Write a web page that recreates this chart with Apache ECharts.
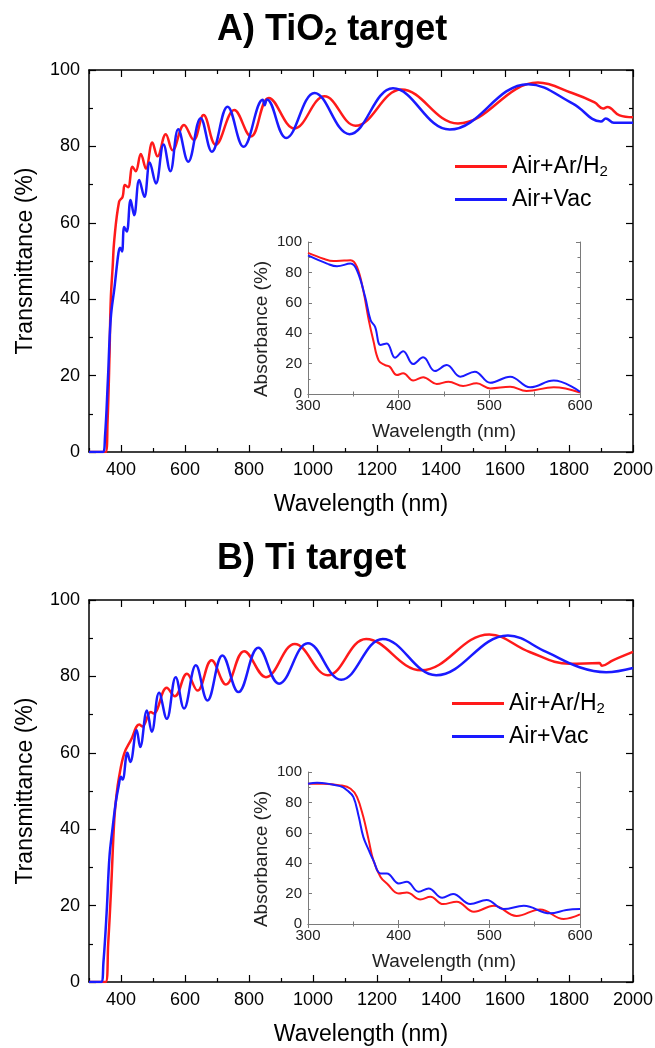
<!DOCTYPE html>
<html>
<head>
<meta charset="utf-8">
<title>Transmittance</title>
<script src="https://cdn.jsdelivr.net/npm/echarts@6.0.0/dist/echarts.min.js"></script>
</head>
<body style="margin:0;background:#fff">
<div id="main" style="width:655px;height:1048px"></div>
<script>
// ---- data: [wavelength nm, %] ----
var tio2ArH2 = [[300,0],[352,0],[358,8],[364,25],[368,39.8],[374,48.5],[379,55.5],[394,65.5],[405,66.8],[412,69.9],[422,69.3],[436,74.7],[446,73.5],[462,78],[478,74.2],[498,81],[514,77.4],[540,83.2],[561,79],[597,85.6],[627,81.7],[658,88.2],[696,80.4],[754,89.5],[806,82.6],[862,92.7],[942,84.7],[1036,93.1],[1133,85.4],[1276,94.9],[1453,86],[1703,96.7],[1812,93.9],[1880,91.5],[1906,89.9],[1920,90.3],[1958,88.1],[2000,87.6]];
var tio2Vac = [[300,0],[343,0],[350,4],[359,18.8],[368,35],[380,43.3],[392,52.1],[397,53.5],[403,52.5],[410,58.9],[418,57.7],[430,66],[441,62],[457,71.2],[473,66.8],[490,75.8],[509,70.3],[533,80.5],[554,73.5],[579,84.5],[610,76],[649,87.4],[684,78.6],[733,90.4],[783,79.9],[843,92.2],[849,90.8],[856,92.3],[916,82.2],[1005,94],[1114,83.2],[1250,95.2],[1427,84.4],[1672,96.3],[1812,91.2],[1900,86.5],[1915,87.3],[1940,86.2],[2000,86.2]];
var tio2InsetArH2 = [[300,92.8],[317,89],[328,87.5],[340,87.8],[347,88],[354,83.6],[361,68],[367,48.6],[372,35.4],[378,22],[385,19],[390,18],[398,12.5],[405,13.6],[416,8.8],[427,11],[442,6.6],[455,8.1],[471,5.3],[486,7],[501,3.7],[523,4.8],[541,2],[571,4.4],[600,1]];
var tio2InsetVac = [[300,91.2],[321,85.8],[332,84],[347,85.8],[354,81.4],[363,63.9],[369,48.6],[374,44.2],[380,32.2],[387,33.3],[396,23.9],[405,28.2],[416,19.7],[427,24.1],[440,15.1],[453,19],[468,11.4],[484,14.7],[501,7.4],[523,11.4],[545,4.4],[571,8.8],[600,1.5]];

var tiArH2 = [[300,0],[352,0],[360,10],[369,24.3],[379,42.4],[386,49],[394,53.7],[410,59.8],[431,63.3],[457,67.4],[467,66.9],[493,70.7],[502,70.3],[543,77],[568,74.8],[606,80.7],[639,76.3],[683,84.2],[728,77.9],[785,86.6],[853,79.8],[943,88.5],[1046,80.3],[1166,89.8],[1338,81.6],[1551,91],[1677,86.4],[1802,83.3],[1895,83.5],[1903,82.8],[1937,84.2],[2000,86.4]];
var tiVac = [[300,0],[338,0],[345,5],[355,18],[364,32.8],[373,39.8],[384,47.2],[392,51],[400,53.7],[405,53],[420,60],[429,57.6],[449,65.9],[460,61.5],[481,71.1],[496,65.5],[519,75.7],[543,68.9],[571,79.8],[597,71.6],[634,82.9],[670,73.7],[717,85.5],[767,75.9],[829,87.5],[894,78.1],[984,88.7],[1088,79.1],[1218,89.8],[1385,80.3],[1609,90.7],[1729,86.4],[1833,82.4],[1916,81.1],[2000,82.2]];
var tiInsetArH2 = [[300,92.3],[317,92.3],[336,91.2],[347,89],[354,83.6],[361,70.5],[367,55],[372,42],[380,31],[387,26.7],[400,20.1],[409,20.8],[424,16.2],[435,17.9],[449,13.1],[464,14.7],[483,8.1],[505,12],[530,5.3],[556,9.6],[582,3.3],[600,6.3]];
var tiInsetVac = [[300,92.3],[310,93],[336,90.6],[343,88],[350,83.6],[356,70.5],[361,57.3],[367,48.6],[372,42],[380,33.3],[387,33.3],[400,26.7],[409,27.8],[422,21.2],[433,23.4],[448,17.3],[460,19.7],[479,13.1],[497,15.8],[516,9.8],[538,12],[567,7],[585,9.2],[600,9.8]];

var mainMajorTicks = [400, 600, 800, 1000, 1200, 1400, 1600, 1800, 2000];
var mainMinorTicks = [300, 500, 700, 900, 1100, 1300, 1500, 1700, 1900];

var RED = '#ff1a1a', BLUE = '#1a1aff';
var FONT = 'Liberation Sans, Arial, sans-serif';

var chart = echarts.init(document.getElementById('main'), null, {renderer: 'canvas'});

var grids = [
	{left: 89, top: 70, width: 544, height: 382},    // A main
	{left: 308, top: 242, width: 272, height: 152},  // A inset
	{left: 89, top: 600, width: 544, height: 382},   // B main
	{left: 308, top: 772, width: 272, height: 152}   // B inset
];
grids.forEach(function (g) { g.outerBoundsMode = 'none'; });

var xAxes = [], yAxes = [];
var plain = function (v) { return String(v); };

function mainAxes(gi) {
	var line = {show: true, lineStyle: {color: '#000', width: 1.5}};
	var xi = xAxes.length;
	['bottom', 'top'].forEach(function (pos) {
		var isB = pos === 'bottom';
		xAxes.push({
			gridIndex: gi, type: 'value', position: pos, min: 300, max: 2000,
			axisLine: line, splitLine: {show: false},
			axisTick: {inside: true, length: 7, customValues: mainMajorTicks, lineStyle: {color: '#000', width: 1.2}},
			axisLabel: {show: isB, customValues: mainMajorTicks, formatter: plain, fontSize: 18, color: '#000', margin: 9, fontFamily: FONT},
			name: isB ? 'Wavelength (nm)' : '', nameLocation: 'middle', nameGap: 41,
			nameTextStyle: {fontSize: 23, color: '#000', fontFamily: FONT}
		});
		xAxes.push({
			gridIndex: gi, type: 'value', position: pos, min: 300, max: 2000,
			axisLine: {show: false}, splitLine: {show: false}, axisLabel: {show: false},
			axisTick: {inside: true, length: 4, customValues: mainMinorTicks, lineStyle: {color: '#000', width: 1.2}}
		});
	});
	var yi = yAxes.length;
	['left', 'right'].forEach(function (pos) {
		var isL = pos === 'left';
		yAxes.push({
			gridIndex: gi, type: 'value', position: pos, min: 0, max: 100, interval: 20,
			axisLine: line, splitLine: {show: false},
			axisTick: {inside: true, length: 7, lineStyle: {color: '#000', width: 1.2}},
			minorTick: {show: true, splitNumber: 2, length: 4, lineStyle: {color: '#000', width: 1.2}},
			axisLabel: {show: isL, formatter: plain, fontSize: 18, color: '#000', margin: 9, fontFamily: FONT},
			name: isL ? 'Transmittance (%)' : '', nameLocation: 'middle', nameGap: 52,
			nameTextStyle: {fontSize: 23, color: '#000', fontFamily: FONT}
		});
	});
	return [xi, yi];
}

function insetAxes(gi) {
	var gray = '#7a7a7a';
	var line = {show: true, lineStyle: {color: gray, width: 1}};
	var tick = {inside: true, length: 4, lineStyle: {color: gray}};
	var minor = {show: true, splitNumber: 2, length: 2.5, lineStyle: {color: gray}};
	var xi = xAxes.length;
	['bottom', 'top'].forEach(function (pos) {
		var isB = pos === 'bottom';
		xAxes.push({
			gridIndex: gi, type: 'value', position: pos, min: 300, max: 600, interval: 100,
			axisLine: line, splitLine: {show: false}, axisTick: tick, minorTick: minor,
			axisLabel: {show: isB, formatter: plain, fontSize: 15, color: '#222', margin: 4, fontFamily: FONT},
			name: isB ? 'Wavelength (nm)' : '', nameLocation: 'middle', nameGap: 28,
			nameTextStyle: {fontSize: 19, color: '#222', fontFamily: FONT}
		});
	});
	var yi = yAxes.length;
	['left', 'right'].forEach(function (pos) {
		var isL = pos === 'left';
		yAxes.push({
			gridIndex: gi, type: 'value', position: pos, min: 0, max: 100, interval: 20,
			axisLine: line, splitLine: {show: false}, axisTick: tick, minorTick: minor,
			axisLabel: {show: isL, formatter: plain, fontSize: 15, color: '#222', margin: 6, fontFamily: FONT},
			name: isL ? 'Absorbance (%)' : '', nameLocation: 'middle', nameGap: 37,
			// nudged down a little, as in the figure
			nameTextStyle: {fontSize: 19, color: '#222', fontFamily: FONT, padding: [0, 22, 0, 0]}
		});
	});
	return [xi, yi];
}

var axA = mainAxes(0), axAi = insetAxes(1), axB = mainAxes(2), axBi = insetAxes(3);

function line(name, data, ax, color, width) {
	return {
		name: name, type: 'line', data: data, xAxisIndex: ax[0], yAxisIndex: ax[1],
		symbol: 'none', smooth: 0.4, color: color,
		lineStyle: {color: color, width: width}, animation: false
	};
}

var series = [
	line('Air+Ar/H2', tio2ArH2, axA, RED, 2.5),
	line('Air+Vac', tio2Vac, axA, BLUE, 2.5),
	line('Air+Ar/H2', tio2InsetArH2, axAi, RED, 2),
	line('Air+Vac', tio2InsetVac, axAi, BLUE, 2),
	line('Air+Ar/H2', tiArH2, axB, RED, 2.5),
	line('Air+Vac', tiVac, axB, BLUE, 2.5),
	line('Air+Ar/H2', tiInsetArH2, axBi, RED, 2),
	line('Air+Vac', tiInsetVac, axBi, BLUE, 2)
];

function legendItem(name, left, top) {
	return {
		data: [name], left: left, top: top, padding: 0, icon: 'rect',
		itemWidth: 52, itemHeight: 3, selectedMode: false,
		formatter: function (n) { return n === 'Air+Ar/H2' ? 'Air+Ar/H{s|2}' : n; },
		textStyle: {fontSize: 23, color: '#000', fontFamily: FONT,
			rich: {s: {fontSize: 15, color: '#000', fontFamily: FONT, padding: [11, 0, 0, 0]}}}
	};
}

var titleStyle = {
	fontSize: 36, fontWeight: 'bold', color: '#000', fontFamily: FONT,
	rich: {s: {fontSize: 23, fontWeight: 'bold', color: '#000', fontFamily: FONT, padding: [17, 0, 0, 0]}}
};

var option = {
	backgroundColor: '#fff',
	animation: false,
	title: [
		{text: 'A) TiO{s|2} target', left: 217, top: 10, padding: 0, textStyle: titleStyle},
		{text: 'B) Ti target', left: 217, top: 541, padding: 0, textStyle: titleStyle}
	],
	legend: [
		legendItem('Air+Ar/H2', 455, 155),
		legendItem('Air+Vac', 455, 188),
		legendItem('Air+Ar/H2', 452, 692),
		legendItem('Air+Vac', 452, 725)
	],
	grid: grids,
	xAxis: xAxes,
	yAxis: yAxes,
	series: series
};

chart.setOption(option);
window.addEventListener('resize', chart.resize);
</script>
</body>
</html>
